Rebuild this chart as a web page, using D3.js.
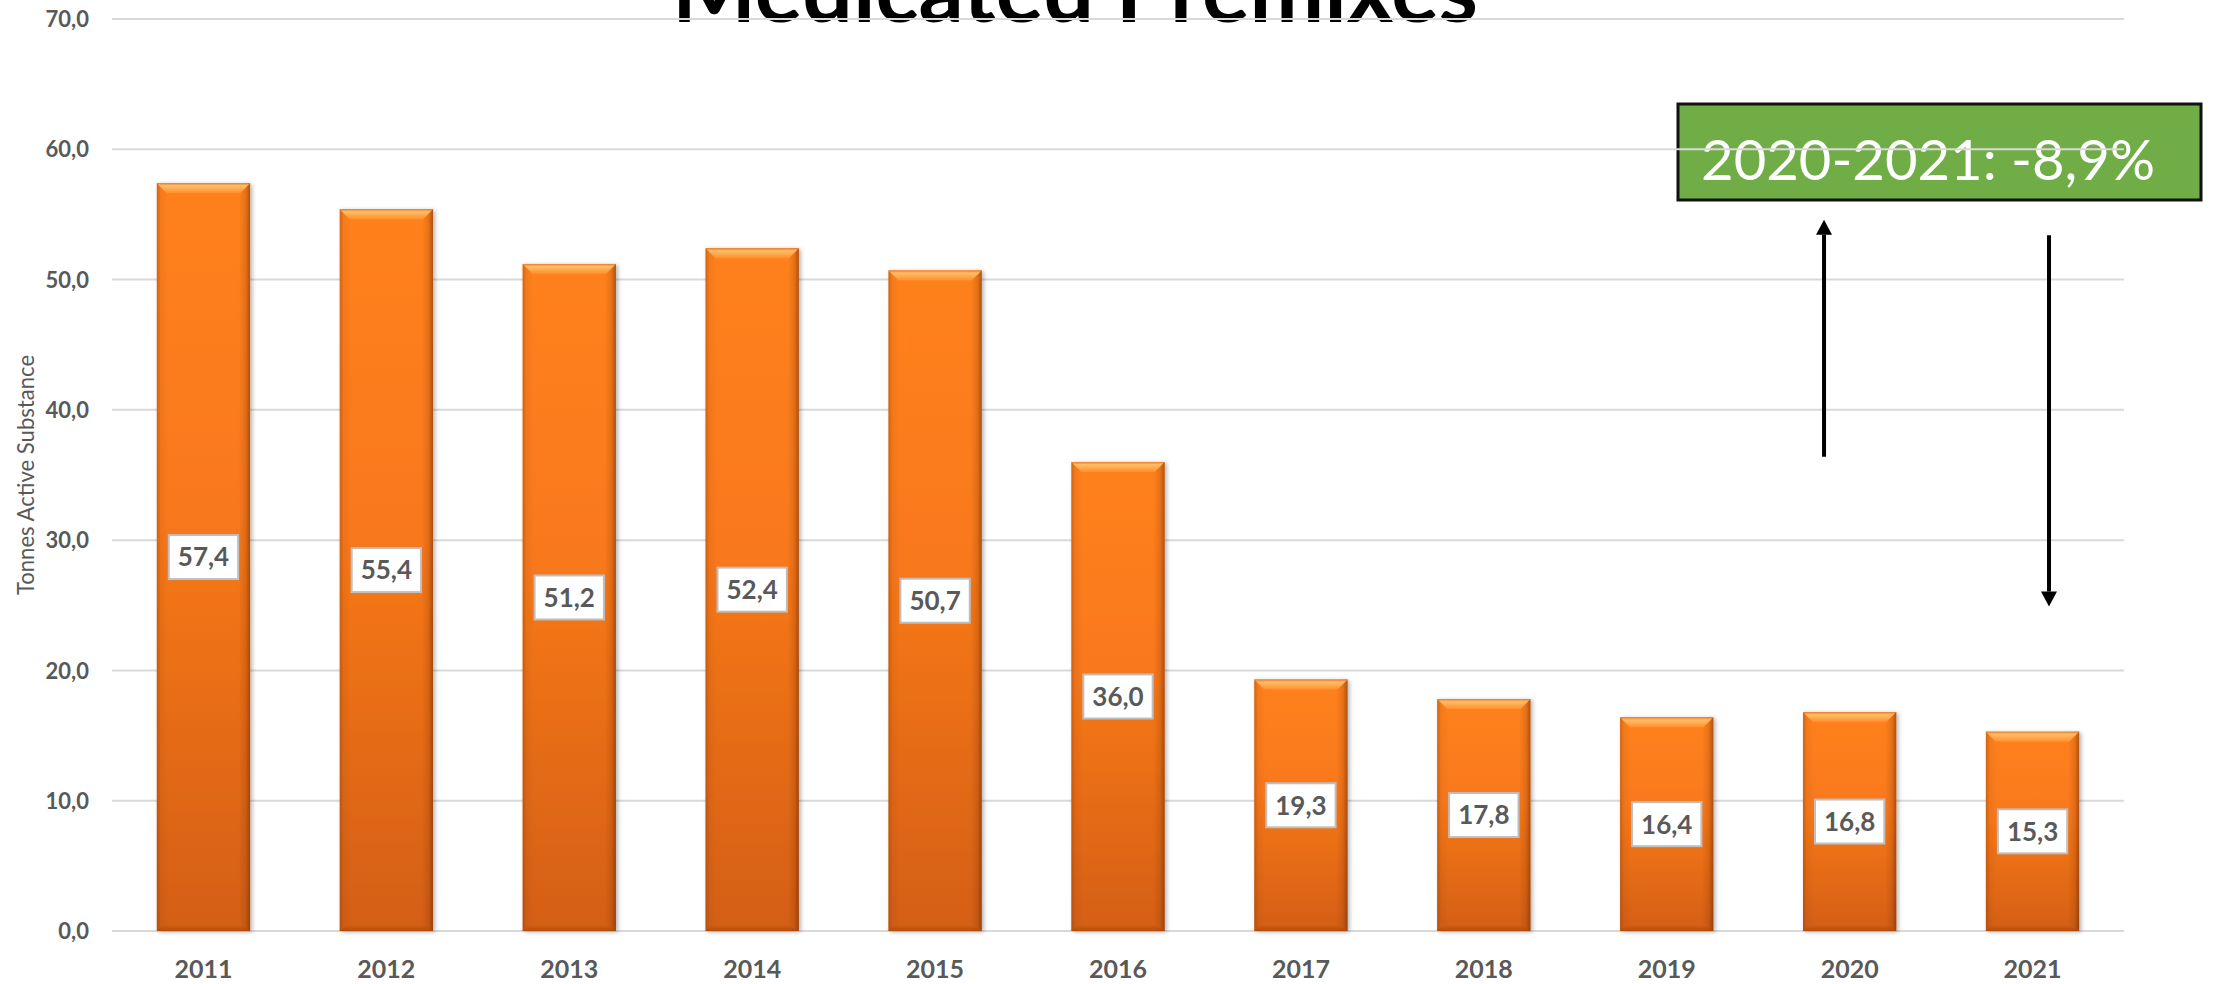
<!DOCTYPE html>
<html>
<head>
<meta charset="utf-8">
<script src="https://cdn.jsdelivr.net/npm/d3@7"></script>
<style>
  html, body { margin: 0; padding: 0; background: #fff; }
  svg { display: block; }
</style>
</head>
<body>
<svg id="chart" width="2218" height="984"></svg>
<script>
// ---------------- data ----------------
const years = ['2011','2012','2013','2014','2015','2016','2017','2018','2019','2020','2021'];
const values = [57.4, 55.4, 51.2, 52.4, 50.7, 36.0, 19.3, 17.8, 16.4, 16.8, 15.3];
const yTicks = [0, 10, 20, 30, 40, 50, 60, 70];
const titleText = 'Medicated Premixes';
const yTitleText = 'Tonnes Active Substance';
const changeText = '2020-2021: -8,9%';
// annotation arrows: [category, offset in bands, from value, to value]
const arrowUp = ['2020', -0.14, 36.4, 54.6];
const arrowDown = ['2021', 0.09, 53.4, 24.9];

// ---------------- layout ----------------
const W = 2218, H = 984;
const plot = { left: 112, right: 2124, top: 19, bottom: 931 };
const svg = d3.select('#chart');
const FONT = 'Lato, "Open Sans", "Liberation Sans", sans-serif';
const grey = '#595959';

const locale = d3.formatLocale({ decimal: ',', thousands: '.', grouping: [3], currency: ['', '€'] });
const fmt = locale.format('.1f');

const x = d3.scaleBand().domain(years).range([plot.left, plot.right]).paddingInner(0.49).paddingOuter(0.245);
const y = d3.scaleLinear().domain([0, 70]).range([plot.bottom, plot.top]);

// ---------------- defs ----------------
const defs = svg.append('defs');
const vg = defs.append('linearGradient').attr('id', 'barV').attr('x1', 0).attr('y1', 0).attr('x2', 0).attr('y2', 1);
vg.append('stop').attr('offset', '0%').attr('stop-color', '#FF811F');
vg.append('stop').attr('offset', '45%').attr('stop-color', '#F8781A');
vg.append('stop').attr('offset', '100%').attr('stop-color', '#D35F13');

const hg = defs.append('linearGradient').attr('id', 'barH').attr('x1', 0).attr('y1', 0).attr('x2', 1).attr('y2', 0);
hg.append('stop').attr('offset', '0%').attr('stop-color', '#7a3000').attr('stop-opacity', 0.35);
hg.append('stop').attr('offset', '4%').attr('stop-color', '#7a3000').attr('stop-opacity', 0.08);
hg.append('stop').attr('offset', '12%').attr('stop-color', '#7a3000').attr('stop-opacity', 0);
hg.append('stop').attr('offset', '88%').attr('stop-color', '#7a3000').attr('stop-opacity', 0);
hg.append('stop').attr('offset', '95%').attr('stop-color', '#7a3000').attr('stop-opacity', 0.18);
hg.append('stop').attr('offset', '100%').attr('stop-color', '#5a2000').attr('stop-opacity', 0.5);

const tg = defs.append('linearGradient').attr('id', 'bevelTop').attr('x1', 0).attr('y1', 0).attr('x2', 0).attr('y2', 1);
tg.append('stop').attr('offset', '0%').attr('stop-color', '#F07A20');
tg.append('stop').attr('offset', '25%').attr('stop-color', '#FFBE6A');
tg.append('stop').attr('offset', '100%').attr('stop-color', '#FF8F2C');

const bg = defs.append('linearGradient').attr('id', 'bevelBot').attr('x1', 0).attr('y1', 0).attr('x2', 0).attr('y2', 1);
bg.append('stop').attr('offset', '0%').attr('stop-color', '#D0600F');
bg.append('stop').attr('offset', '100%').attr('stop-color', '#A84608');

const shadow = defs.append('filter').attr('id', 'shadow').attr('x', '-10%').attr('y', '-5%').attr('width', '130%').attr('height', '115%');
shadow.append('feDropShadow').attr('dx', 2).attr('dy', 1).attr('stdDeviation', 2)
  .attr('flood-color', '#000').attr('flood-opacity', 0.3);

// ---------------- title ----------------
const title = svg.append('text')
  .attr('x', 1075).attr('y', 22)
  .attr('text-anchor', 'middle')
  .style('font-family', FONT).style('font-weight', 700).style('font-size', '90px')
  .attr('fill', '#000')
  .text(titleText);
{
  const len = title.node().getComputedTextLength();
  title.style('font-size', (90 * 806 / len).toFixed(1) + 'px');
}

// ---------------- annotation box (under gridlines) ----------------
const box = { x0: 1678, x1: 2201, y0: 104, y1: 200 };
svg.append('rect')
  .attr('x', box.x0).attr('y', box.y0)
  .attr('width', box.x1 - box.x0).attr('height', box.y1 - box.y0)
  .attr('fill', '#70AD47').attr('stroke', '#111').attr('stroke-width', 3);
const ct = svg.append('text')
  .attr('x', 1928).attr('y', 180)
  .attr('text-anchor', 'middle')
  .style('font-family', FONT).style('font-weight', 400).style('font-size', '57px')
  .attr('fill', '#fff')
  .text(changeText);
{
  const len = ct.node().getComputedTextLength();
  ct.style('font-size', (57 * 454 / len).toFixed(1) + 'px');
}

// ---------------- gridlines ----------------
svg.append('g').selectAll('line').data(yTicks).join('line')
  .attr('x1', plot.left).attr('x2', plot.right)
  .attr('y1', d => y(d)).attr('y2', d => y(d))
  .attr('stroke', '#D9D9D9').attr('stroke-width', 2);

// y tick labels
const yAxis = d3.axisLeft(y).tickValues(yTicks).tickFormat(fmt).tickSize(0).tickPadding(0);
const ya = svg.append('g').attr('transform', `translate(${plot.left - 23},0)`).call(yAxis);
ya.select('.domain').remove();
ya.selectAll('text')
  .style('font-family', FONT).style('font-weight', 700).style('font-size', '22px')
  .attr('fill', grey).attr('dy', '0.35em');

// x tick labels
const xAxis = d3.axisBottom(x).tickSize(0).tickPadding(0);
const xa = svg.append('g').attr('transform', `translate(0,${plot.bottom})`).call(xAxis);
xa.select('.domain').remove();
xa.selectAll('text')
  .style('font-family', FONT).style('font-weight', 700).style('font-size', '25px')
  .attr('fill', grey).attr('y', 47).attr('dy', 0);

// y axis title
const yt = svg.append('text')
  .attr('transform', `translate(34,${(plot.top + plot.bottom) / 2}) rotate(-90)`)
  .attr('text-anchor', 'middle')
  .style('font-family', FONT).style('font-weight', 400).style('font-size', '22px')
  .attr('fill', grey)
  .text(yTitleText);
{
  const len = yt.node().getComputedTextLength();
  yt.style('font-size', (22 * 240 / len).toFixed(1) + 'px');
}

// ---------------- bars ----------------
const data = years.map((yr, i) => ({ yr, v: values[i] }));
const bw = x.bandwidth();
const bars = svg.append('g').selectAll('g').data(data).join('g');

bars.append('rect')
  .attr('x', d => x(d.yr)).attr('y', d => y(d.v))
  .attr('width', bw).attr('height', d => y(0) - y(d.v))
  .attr('fill', 'url(#barV)').attr('filter', 'url(#shadow)');
bars.append('rect')
  .attr('x', d => x(d.yr)).attr('y', d => y(d.v))
  .attr('width', bw).attr('height', d => y(0) - y(d.v))
  .attr('fill', 'url(#barH)');
const bev = 10;
bars.append('path')
  .attr('d', d => {
    const x0 = x(d.yr), x1 = x0 + bw, y0 = y(d.v);
    return `M${x0},${y0}L${x1},${y0}L${x1 - bev},${y0 + bev}L${x0 + bev},${y0 + bev}Z`;
  })
  .attr('fill', 'url(#bevelTop)');
bars.append('path')
  .attr('d', d => {
    const x0 = x(d.yr), x1 = x0 + bw, y1 = y(0);
    return `M${x0},${y1}L${x1},${y1}L${x1 - 6},${y1 - 6}L${x0 + 6},${y1 - 6}Z`;
  })
  .attr('fill', 'url(#bevelBot)').attr('opacity', 0.7);

// ---------------- data labels ----------------
const lab = bars.append('g')
  .attr('transform', d => `translate(${x(d.yr) + bw / 2},${(y(d.v) + y(0)) / 2})`);
const labText = lab.append('text')
  .attr('text-anchor', 'middle').attr('dy', '0.36em')
  .style('font-family', FONT).style('font-weight', 700).style('font-size', '26px')
  .attr('fill', grey)
  .text(d => fmt(d.v));
labText.each(function () {
  const w = this.getComputedTextLength() + 18;
  d3.select(this.parentNode).insert('rect', 'text')
    .attr('x', -w / 2).attr('y', -22).attr('width', w).attr('height', 44)
    .attr('fill', '#fff').attr('stroke', '#BFBFBF').attr('stroke-width', 2);
});

// ---------------- arrows ----------------
function drawArrow(a) {
  const cx = x(a[0]) + bw / 2 + a[1] * x.step();
  const yFrom = y(a[2]), yTo = y(a[3]);
  const dir = yTo < yFrom ? -1 : 1;
  const head = 15, hw = 8;
  svg.append('line')
    .attr('x1', cx).attr('x2', cx)
    .attr('y1', yFrom).attr('y2', yTo - dir * head)
    .attr('stroke', '#000').attr('stroke-width', 4);
  svg.append('path')
    .attr('d', `M${cx - hw},${yTo - dir * head}L${cx + hw},${yTo - dir * head}L${cx},${yTo}Z`)
    .attr('fill', '#000');
}
drawArrow(arrowUp);
drawArrow(arrowDown);
</script>
</body>
</html>
